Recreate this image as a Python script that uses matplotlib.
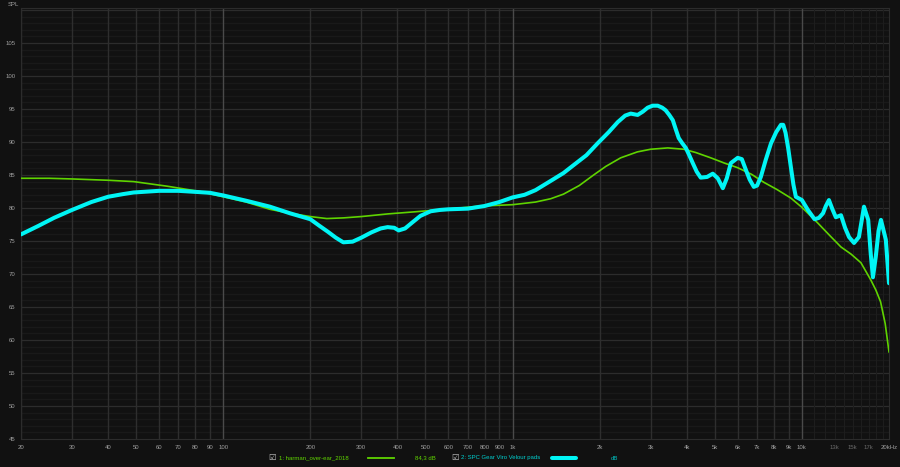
import matplotlib
matplotlib.use("Agg")
import matplotlib.pyplot as plt
from matplotlib.lines import Line2D

# target curve (harman over-ear 2018)
harman_freq = [20, 25, 30, 40, 49, 64, 83, 100, 120, 145, 170, 200, 228, 260, 300, 370, 453,
               550, 780, 1000, 1200, 1354, 1500, 1700, 1906, 2100, 2364, 2700, 3000, 3438,
               3908, 4300, 4842, 5400, 6000, 6700, 7380, 8200, 9160, 10000, 11360, 12500,
               13640, 14800, 16000, 17300, 18000, 18700, 19400, 20000]
harman_db = [84.5, 84.5, 84.4, 84.2, 84.0, 83.3, 82.5, 81.7, 80.9, 79.8, 79.2, 78.7, 78.4,
             78.5, 78.7, 79.1, 79.4, 79.7, 80.3, 80.5, 80.9, 81.4, 82.1, 83.4, 85.0, 86.3,
             87.6, 88.5, 88.9, 89.1, 88.9, 88.4, 87.6, 86.8, 86.1, 85.1, 83.9, 82.8, 81.5,
             80.1, 77.7, 75.8, 74.1, 73.0, 71.7, 69.1, 67.6, 65.8, 62.5, 58.2]

# measurement (SPC Gear Viro, velour pads)
spc_freq = [20, 23, 26, 30, 35, 40, 45, 49, 60, 70, 83, 90, 100, 120, 145, 170, 200, 215,
            230, 245, 260, 280, 300, 325, 350, 370, 390, 404, 425, 450, 480, 521, 560, 600,
            700, 800, 900, 1000, 1100, 1200, 1354, 1500, 1626, 1800, 1968, 2150, 2308, 2450,
            2560, 2705, 2820, 2930, 3050, 3175, 3290, 3382, 3480, 3580, 3660, 3752, 3860,
            3970, 4080, 4196, 4330, 4470, 4700, 4920, 5120, 5330, 5500, 5680, 6000, 6200,
            6400, 6600, 6820, 7000, 7210, 7500, 7820, 8150, 8460, 8620, 8780, 8970, 9160,
            9350, 9530, 10000, 10490, 11060, 11450, 11830, 12100, 12400, 12750, 13100,
            13650, 14100, 14550, 15140, 15740, 16050, 16390, 16950, 17300, 17600, 18000,
            18400, 18760, 19500, 20000]
spc_db = [76.0, 77.3, 78.5, 79.7, 80.9, 81.7, 82.1, 82.35, 82.6, 82.6, 82.4, 82.3, 81.9,
          81.1, 80.2, 79.2, 78.3, 77.3, 76.4, 75.5, 74.8, 74.9, 75.5, 76.3, 76.9, 77.1, 77.0,
          76.6, 76.9, 77.8, 78.8, 79.5, 79.7, 79.8, 79.9, 80.3, 80.9, 81.6, 82.0, 82.7, 84.1,
          85.3, 86.5, 88.0, 89.8, 91.5, 93.0, 94.0, 94.3, 94.1, 94.6, 95.2, 95.5, 95.5, 95.2,
          94.8, 94.1, 93.3, 92.0, 90.6, 89.8, 89.1, 88.0, 86.8, 85.5, 84.6, 84.7, 85.2, 84.5,
          83.0, 84.5, 86.8, 87.6, 87.4, 85.8, 84.3, 83.2, 83.4, 84.7, 87.3, 89.8, 91.5, 92.6,
          92.6, 91.4, 89.0, 86.2, 83.5, 81.7, 81.2, 79.7, 78.3, 78.5, 79.2, 80.3, 81.2, 79.8,
          78.6, 78.9, 77.0, 75.6, 74.7, 75.6, 77.8, 80.2, 78.2, 73.0, 69.5, 72.6, 76.5, 78.2,
          75.2, 68.6]

x_ticks = [20, 30, 40, 50, 60, 70, 80, 90, 100, 200, 300, 400, 500, 600, 700, 800, 900,
           1000, 2000, 3000, 4000, 5000, 6000, 7000, 8000, 9000, 10000, 13000, 15000, 17000, 20000]
x_labels = ["20", "30", "40", "50", "60", "70", "80", "90", "100", "200", "300", "400", "500",
            "600", "700", "800", "900", "1k", "2k", "3k", "4k", "5k", "6k", "7k", "8k", "9k",
            "10k", "13k", "15k", "17k", "20kHz"]
y_ticks = [45, 50, 55, 60, 65, 70, 75, 80, 85, 90, 95, 100, 105]

bg = "#111111"
fs = 4.3
plt.rcParams["font.family"] = ["Liberation Sans", "DejaVu Sans"]

fig = plt.figure(figsize=(9, 4.67), dpi=100, facecolor=bg)
ax = fig.add_axes([21 / 900, 1 - 439 / 467, 868 / 900, 431 / 467])
ax.set_facecolor(bg)
ax.set_xscale("log")
ax.set_xlim(20, 20000)
ax.set_ylim(45, 110.3)

# grid lines
for db in range(46, 111):
    c = "#2c2c2c" if db % 5 == 0 else "#191919"
    ax.axhline(db, color=c, lw=0.9, zorder=0)
for dec in [10, 100, 1000]:
    for m in range(2, 10):
        f = dec * m
        if 20 <= f <= 20000:
            ax.axvline(f, color="#2e2e2e", lw=1.0, zorder=0)
for f in [100, 1000, 10000]:
    ax.axvline(f, color="#4a4a4a", lw=1.0, zorder=0)
for f in range(11000, 20000, 1000):
    ax.axvline(f, color="#1d1d1d", lw=0.8, zorder=0)

ax.plot(harman_freq, harman_db, color="#5fd400", lw=1.2, zorder=3)
ax.plot(spc_freq, spc_db, color="#00f5f5", lw=2.9, zorder=4, solid_capstyle="round",
        solid_joinstyle="round")

ax.set_xticks(x_ticks)
ax.set_xticklabels(x_labels)
ax.set_xticks([], minor=True)
ax.set_yticks(y_ticks)
ax.tick_params(axis="both", length=0, labelsize=fs, colors="#a0a0a0", pad=4)
for lbl in ax.get_xticklabels()[-4:-1]:
    lbl.set_color("#6a6a6a")
for s in ax.spines.values():
    s.set_color("#2c2c2c")

fig.text(8 / 900, 1 - 7 / 467, "SPL", fontsize=fs, color="#a0a0a0", va="bottom")

# legend row
ly = 1 - 458 / 467
fig.text(268 / 900, ly, "\u2611", fontsize=6, color="#c8c8c8", va="center")
fig.text(279 / 900, ly, "1: harman_over-ear_2018", fontsize=fs, color="#5fd400", va="center")
fig.add_artist(Line2D([368 / 900, 394 / 900], [ly, ly], color="#5fd400", lw=1.3))
fig.text(415 / 900, ly, "84,3 dB", fontsize=fs, color="#5fd400", va="center")
fig.text(451 / 900, ly, "\u2611", fontsize=6, color="#c8c8c8", va="center")
fig.text(461 / 900, ly, "2: SPC Gear Viro Velour pads", fontsize=fs, color="#00d0d0", va="center")
fig.add_artist(Line2D([552 / 900, 576 / 900], [ly, ly], color="#00f5f5", lw=2.9,
                      solid_capstyle="round"))
fig.text(611 / 900, ly, "dB", fontsize=fs, color="#00c0c0", va="center")

fig.savefig("out.png", dpi=100, facecolor=bg)
